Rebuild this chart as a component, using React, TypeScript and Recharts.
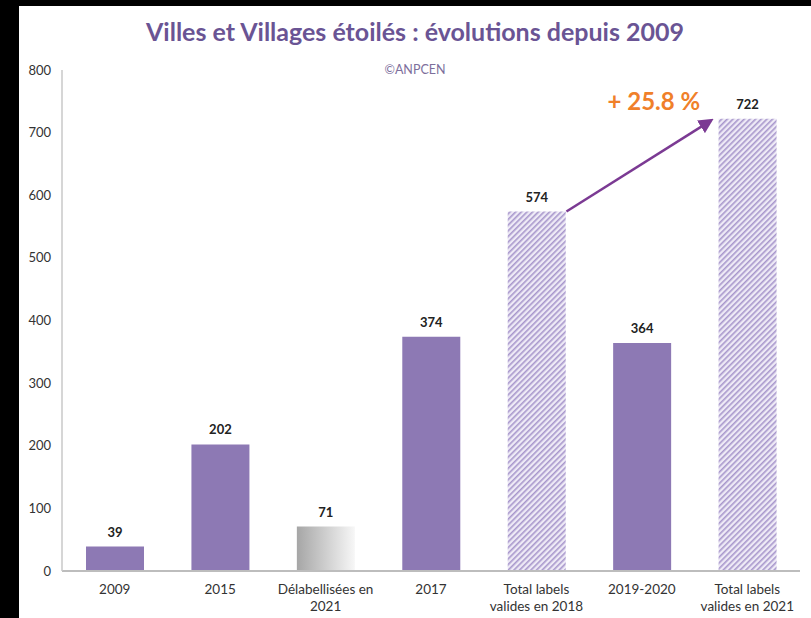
import { BarChart, Bar, XAxis, YAxis, Cell, LabelList, ReferenceLine, ReferenceDot } from 'recharts';

const categories = [
  '2009',
  '2015',
  'Délabellisées en\n2021',
  '2017',
  'Total labels\nvalides en 2018',
  '2019-2020',
  'Total labels\nvalides en 2021',
];
const values = [39, 202, 71, 374, 574, 364, 722];
const styles = ['solid', 'solid', 'gray', 'solid', 'hatch', 'solid', 'hatch'];
const yTicks = [0, 100, 200, 300, 400, 500, 600, 700, 800];
const growthLabel = '+ 25.8 %';

const data = categories.map((name, i) => ({ name, value: values[i], kind: styles[i] }));

const FONT = 'Lato, "Open Sans", sans-serif';
const PURPLE = '#8d79b4';

const fillFor = (s: string) =>
  s === 'gray' ? 'url(#grayGrad)' : s === 'hatch' ? 'url(#hatch)' : PURPLE;

const XTick = (props: any) => {
  const { x, y, payload } = props;
  const lines = String(payload.value).split('\n');
  return (
    <text x={x} y={y} textAnchor="middle" fontFamily={FONT} fontSize={13.5} fill="#333">
      {lines.map((l, i) => (
        <tspan key={i} x={x} dy={i === 0 ? 15 : 17}>{l}</tspan>
      ))}
    </text>
  );
};

// arrow from the top-right corner of the 2018 total to the 2021 total
const GrowthArrow = (props: any) => {
  const { x1, y1, x2, y2 } = props;
  if (x1 == null) return null;
  return (
    <line
      x1={x1 + 30} y1={y1} x2={x2 - 40} y2={y2 + 4}
      stroke="#7b3a93" strokeWidth={2.5} markerEnd="url(#arrowHead)"
    />
  );
};

const GrowthText = (props: any) => {
  const { cx, cy } = props;
  if (cx == null) return <g />;
  return (
    <text x={cx + 12} y={cy} textAnchor="middle" dominantBaseline="central"
      fontFamily={FONT} fontSize={24} fontWeight={700} fill="#f0802a">
      {growthLabel}
    </text>
  );
};

export default function App() {
  return (
    <div style={{ position: 'fixed', left: 0, top: 0, width: 811, height: 618, background: '#000' }}>
      <div style={{ position: 'absolute', left: 19, top: 6, width: 792, height: 612, background: '#fff' }}>
        <div style={{
          position: 'absolute', left: 0, top: 10, width: 792, textAlign: 'center',
          fontFamily: FONT, fontWeight: 700, fontSize: 25, color: '#6a5494',
        }}>
          Villes et Villages étoilés : évolutions depuis 2009
        </div>
        <div style={{
          position: 'absolute', left: 0, top: 56, width: 792, textAlign: 'center',
          fontFamily: FONT, fontSize: 12.5, color: '#7d6f9c',
        }}>
          ©ANPCEN
        </div>
        <BarChart
          width={792}
          height={612}
          data={data}
          margin={{ top: 64, right: 11, left: 0, bottom: 0 }}
          barSize={58}
        >
          <defs>
            <pattern id="hatch" width="4" height="4" patternUnits="userSpaceOnUse" patternTransform="rotate(45)">
              <rect width="4" height="4" fill="#eeeaf6" />
              <rect width="1.6" height="4" fill="#a897cc" />
            </pattern>
            <linearGradient id="grayGrad" x1="0" y1="0" x2="1" y2="0">
              <stop offset="0%" stopColor="#a6a6a6" />
              <stop offset="100%" stopColor="#f7f7f7" />
            </linearGradient>
            <marker id="arrowHead" markerWidth="6" markerHeight="6" refX="3" refY="3" orient="auto" markerUnits="strokeWidth">
              <path d="M0,0 L6,3 L0,6 z" fill="#7b3a93" />
            </marker>
          </defs>
          <XAxis
            dataKey="name"
            interval={0}
            height={47}
            tick={<XTick />}
            tickLine={false}
            axisLine={{ stroke: '#bdbdbd', strokeWidth: 2 }}
          />
          <YAxis
            width={43}
            domain={[0, 800]}
            ticks={yTicks}
            tickLine={false}
            tickSize={8}
            tickMargin={3}
            axisLine={{ stroke: '#c8c8c8', strokeWidth: 1.5 }}
            tick={{ fontFamily: FONT, fontSize: 13, fill: '#333' }}
          />
          <Bar dataKey="value" isAnimationActive={false}>
            {data.map((d) => (
              <Cell key={d.name} fill={fillFor(d.kind)} />
            ))}
            <LabelList
              dataKey="value"
              position="top"
              offset={10}
              fontFamily={FONT}
              fontSize={13}
              fontWeight={700}
              fill="#222"
            />
          </Bar>
          <ReferenceLine
            segment={[{ x: categories[4], y: values[4] }, { x: categories[6], y: values[6] }]}
            shape={<GrowthArrow />}
          />
          <ReferenceDot
            x={categories[5]}
            y={752}
            r={0}
            shape={<GrowthText />}
          />
        </BarChart>
      </div>
    </div>
  );
}
